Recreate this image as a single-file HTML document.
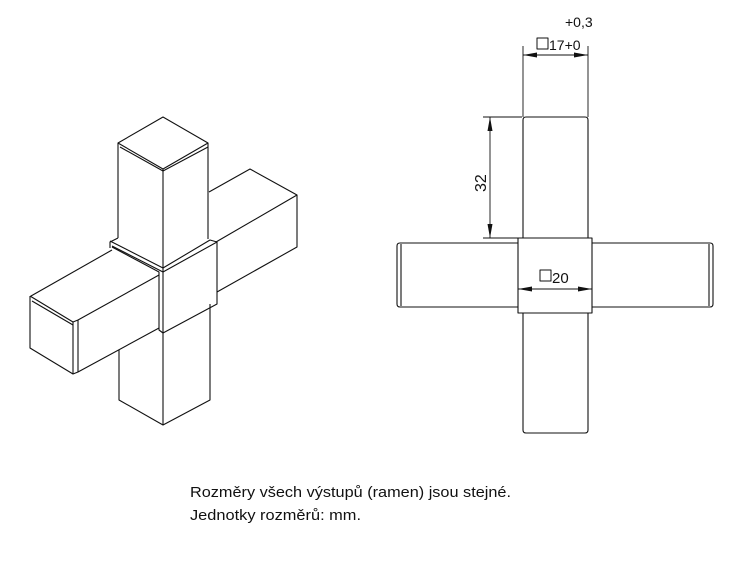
<!DOCTYPE html>
<html><head><meta charset="utf-8"><style>
html,body{margin:0;padding:0;background:#fff;}
svg{display:block;}
text{font-family:"Liberation Sans Narrow","Liberation Sans",sans-serif;fill:#111;}
</style></head><body>
<svg width="738" height="565" viewBox="0 0 738 565" xmlns="http://www.w3.org/2000/svg">
<defs>
<marker id="a" viewBox="0 0 14 5" refX="14" refY="2.5" markerWidth="14" markerHeight="5" orient="auto-start-reverse" markerUnits="userSpaceOnUse"><path d="M0,0 L14,2.5 L0,5z" fill="#111"/></marker>
</defs>
<g fill="none" stroke="#111" stroke-width="1.1" stroke-linejoin="round">
<path d="M163,117 L118,143 L163,169 L208,143 Z"/>
<path d="M120,147 L163,171 L208,147"/>
<path d="M118,143 V238 M163,169 V268 M208,143 V239"/>
<path d="M209,192 L250,169 L297,195 L297,247 L217,292"/>
<path d="M216,242 L297,195"/>
<path d="M118,238 L110,242 L110,248 M110,241 L163,268 L210,240 L217,242 L217,304 L163,333 L159,330 L159,272 L112,247"/>
<path d="M112,246 L163,272 L217,242"/>
<path d="M163,268 V333"/>
<path d="M31,296 L112,250"/>
<path d="M30,296 L73,322 L78,320 L159,275"/>
<path d="M30,296 V348 L73,374 L78,372 L159,328"/>
<path d="M73,322 V374 M78,320 V372"/>
<path d="M32,301 L73,325"/>
<path d="M119,350 V400 L163,425 L210,400 V304 M163,333 V425"/>
<path d="M523,238 V120 Q523,117 526,117 H585 Q588,117 588,120 V238"/>
<path d="M523,313 V430 Q523,433 526,433 H585 Q588,433 588,430 V313"/>
<path d="M518,243 H400 Q397,243 397,246 V304 Q397,307 400,307 H518"/>
<path d="M592,243 H710 Q713,243 713,246 V304 Q713,307 710,307 H592"/>
<path d="M401,244 V306 M709,244 V306"/>
<rect x="518" y="238" width="74" height="75"/>
<path d="M523,117 V46 M588,117 V46" stroke-width="0.9"/>
<path d="M523,55 H588" stroke-width="0.9" marker-start="url(#a)" marker-end="url(#a)"/>
<path d="M483,117 H522 M483,238 H518" stroke-width="0.9"/>
<path d="M490,117 V238" stroke-width="0.9" marker-start="url(#a)" marker-end="url(#a)"/>
<path d="M518,289 H592" stroke-width="0.9" marker-start="url(#a)" marker-end="url(#a)"/>
<rect x="537" y="38" width="11" height="11" stroke-width="1"/>
<rect x="540" y="270" width="11" height="11" stroke-width="1"/>
</g>
<text x="565" y="27" font-size="14">+0,3</text>
<text x="549" y="50" font-size="14">17+0</text>
<text x="552" y="283" font-size="15">20</text>
<text transform="translate(486,192) rotate(-90)" font-size="16">32</text>
<text x="190" y="497" font-size="15" textLength="321" lengthAdjust="spacingAndGlyphs">Rozměry všech výstupů (ramen) jsou stejné.</text>
<text x="190" y="520" font-size="15" textLength="171" lengthAdjust="spacingAndGlyphs">Jednotky rozměrů: mm.</text>
</svg>
</body></html>
